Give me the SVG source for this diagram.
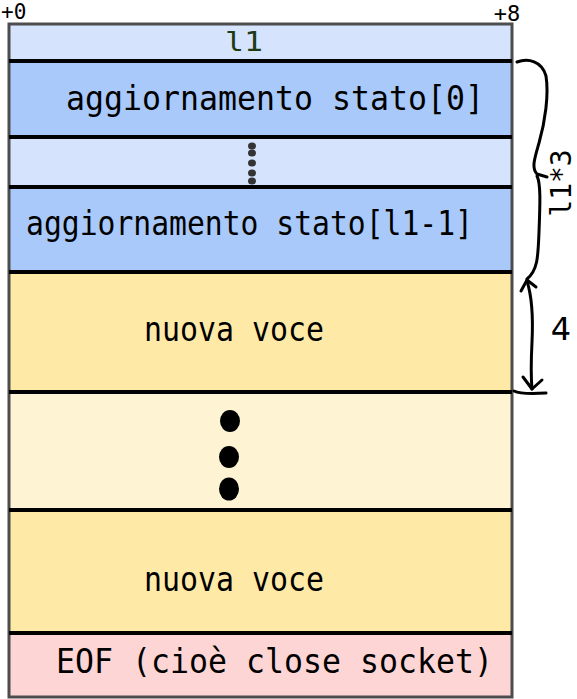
<svg xmlns="http://www.w3.org/2000/svg" width="577" height="699" viewBox="0 0 577 699">
<style>
.t{font-family:"DejaVu Sans Mono","Liberation Mono",monospace;font-size:33px;fill:#000}
.sep{stroke:#000;stroke-width:4}
.hand{fill:none;stroke:#000;stroke-width:3;stroke-linecap:round;stroke-linejoin:round}
</style>
<rect width="577" height="699" fill="#fff"/>
<g id="row-l1"><rect x="9" y="24" width="503" height="37" fill="#d5e3fd"/><text x="225" y="51" class="t" style="font-size:26px;fill:#1d3b17" textLength="38" lengthAdjust="spacingAndGlyphs">l1</text></g>
<g id="row-stato0"><rect x="9" y="61" width="503" height="76" fill="#a9c9fb"/><text x="66" y="110" class="t" textLength="418" lengthAdjust="spacingAndGlyphs">aggiornamento stato[0]</text></g>
<g id="row-dots1"><rect x="9" y="137" width="503" height="50" fill="#d5e3fd"/>
<g fill="#333"><ellipse cx="252" cy="146" rx="4" ry="3.5"/><ellipse cx="252" cy="153" rx="4" ry="3.5"/><ellipse cx="252" cy="163" rx="4" ry="3.5"/><ellipse cx="252" cy="173" rx="4" ry="3.5"/><ellipse cx="252" cy="181" rx="4" ry="3.5"/></g></g>
<g id="row-statoN"><rect x="9" y="187" width="503" height="85" fill="#a9c9fb"/><text x="26" y="235" class="t" textLength="447" lengthAdjust="spacingAndGlyphs">aggiornamento stato[l1-1]</text></g>
<g id="row-voce1"><rect x="9" y="272" width="503" height="120" fill="#feeaa6"/><text x="144" y="341" class="t" textLength="180" lengthAdjust="spacingAndGlyphs">nuova voce</text></g>
<g id="row-dots2"><rect x="9" y="392" width="503" height="118" fill="#fef4d4"/>
<g fill="#000"><ellipse cx="230" cy="421" rx="10" ry="11"/><ellipse cx="229" cy="457" rx="10" ry="11"/><ellipse cx="229" cy="489" rx="10" ry="11.5"/></g></g>
<g id="row-voce2"><rect x="9" y="510" width="503" height="123" fill="#feeaa6"/><text x="144" y="591" class="t" textLength="180" lengthAdjust="spacingAndGlyphs">nuova voce</text></g>
<g id="row-eof"><rect x="9" y="633" width="503" height="64" fill="#fed5d5"/><text x="56" y="673" class="t" textLength="437" lengthAdjust="spacingAndGlyphs">EOF (cioè close socket)</text></g>
<g id="frame"><rect x="9" y="24" width="503" height="673" fill="none" stroke="#4d4d4d" stroke-width="3"/>
<line class="sep" x1="9" y1="61" x2="512" y2="61"/><line class="sep" x1="9" y1="137" x2="512" y2="137"/><line class="sep" x1="9" y1="187" x2="512" y2="187"/><line class="sep" x1="9" y1="272" x2="512" y2="272"/><line class="sep" x1="9" y1="392" x2="512" y2="392"/><line class="sep" x1="9" y1="510" x2="512" y2="510"/><line class="sep" x1="9" y1="633" x2="512" y2="633"/></g>
<g id="offsets"><text x="1" y="19" class="t" style="font-size:21px">+0</text><text x="507" y="21" text-anchor="middle" class="t" style="font-size:22px">+8</text></g>
<g id="connectors">
<path class="hand" d="M517,62 C528,58 542,61 546,76 C549,95 545,122 539,143 C535,157 531,168 537,174 L547,177 M537,176 C541,184 540,205 539,232 C538,256 538,270 527,279"/>
<path class="hand" d="M527,281 C533,300 533,322 532,342 C531,362 531,378 532,389"/>
<path class="hand" d="M521,291 L527,280 L536,287"/>
<path class="hand" d="M523,377 L532,389 L542,380"/>
<path class="hand" d="M514,391 C520,394 530,394 546,393"/>
</g>
<g id="labels"><text transform="translate(571,183) rotate(-90)" text-anchor="middle" class="t" style="font-size:28px">l1*3</text>
<text x="561" y="340" text-anchor="middle" style="font-family:'DejaVu Sans',sans-serif;font-size:32px">4</text></g>
</svg>
